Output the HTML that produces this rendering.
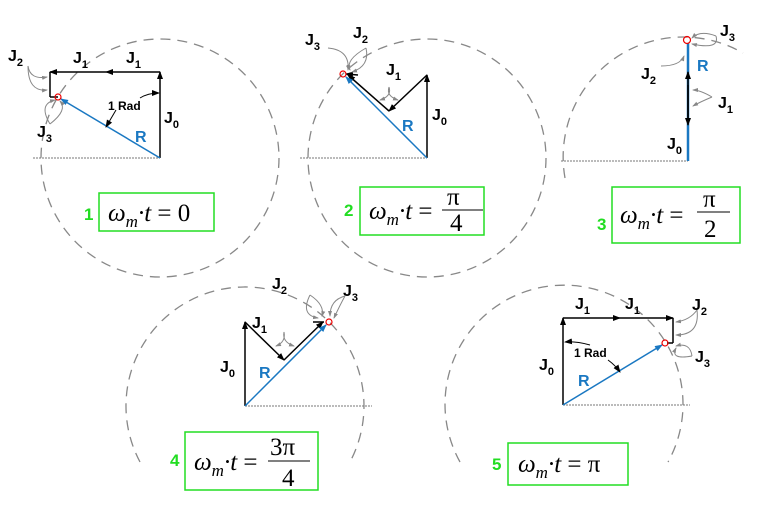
<!DOCTYPE html>
<html><head><meta charset="utf-8"><style>
html,body{margin:0;padding:0;background:#fff;}
svg{display:block;}
.l{font-family:"Liberation Sans",sans-serif;font-weight:bold;font-size:16px;fill:#000;}
.s{font-size:11px;}
.r{font-family:"Liberation Sans",sans-serif;font-weight:bold;font-size:16px;fill:#1a78c2;}
.n{font-family:"Liberation Sans",sans-serif;font-weight:bold;font-size:17px;fill:#22dd22;}
.f{font-family:"Liberation Serif",serif;font-style:italic;font-size:25px;fill:#000;}
.fu{font-family:"Liberation Serif",serif;font-style:normal;font-size:25px;fill:#000;}
.sub{font-family:"Liberation Serif",serif;font-style:italic;font-size:17px;}
.box{fill:#fff;stroke:#22dd22;stroke-width:1.5;}
.c{fill:none;stroke:#888;stroke-width:1.3;stroke-dasharray:10,7;}
.h{stroke:#777;stroke-width:1;stroke-dasharray:2,1;}
.k{stroke:#000;stroke-width:1.5;fill:none;}
.b{stroke:#1a78c2;stroke-width:1.5;fill:none;}
.g{stroke:#888;stroke-width:1;fill:none;}
</style></head><body>
<svg width="770" height="505" viewBox="0 0 770 505" xmlns="http://www.w3.org/2000/svg">
<defs>
<marker id="ak" markerWidth="8" markerHeight="8" refX="7" refY="4" orient="auto" markerUnits="userSpaceOnUse"><path d="M0,1 L8,4 L0,7z" fill="#000"/></marker>
<marker id="ab" markerWidth="8" markerHeight="8" refX="7" refY="4" orient="auto" markerUnits="userSpaceOnUse"><path d="M0,1 L8,4 L0,7z" fill="#1a78c2"/></marker>
<marker id="ag" markerWidth="6" markerHeight="6" refX="5" refY="3" orient="auto" markerUnits="userSpaceOnUse"><path d="M0,1 L6,3 L0,5z" fill="#888"/></marker>
</defs>

<!-- Panel 1 -->
<circle class="c" cx="160" cy="158" r="119"/>
<line class="h" x1="33" y1="158" x2="160" y2="158"/>
<line class="k" x1="160" y1="158" x2="160" y2="72" marker-end="url(#ak)"/>
<line class="k" x1="160" y1="72" x2="106" y2="72" marker-end="url(#ak)"/>
<line class="k" x1="106" y1="72" x2="50" y2="72" marker-end="url(#ak)"/>
<line class="k" x1="50" y1="72" x2="50" y2="97"/>
<line class="k" x1="50" y1="97" x2="58" y2="97"/>
<line class="b" x1="160" y1="158" x2="61" y2="99" marker-end="url(#ab)"/>
<circle cx="58" cy="97" r="3" fill="none" stroke="#e00" stroke-width="1.2"/>
<path class="k" d="M140,98 Q148,93 159,93" style="stroke-width:1" marker-end="url(#ak)"/>
<path class="k" d="M116,110 L106,127" style="stroke-width:1" marker-end="url(#ak)"/>
<text class="l" x="108" y="110" style="font-size:12px">1 Rad</text>
<path class="g" d="M28,66 Q30,80 47,77" marker-end="url(#ag)"/>
<path class="g" d="M28,66 Q28,92 47,90" marker-end="url(#ag)"/>
<path class="g" d="M50,124 Q38,104 55,100" marker-end="url(#ag)"/>
<path class="g" d="M50,124 Q68,110 60,101" marker-end="url(#ag)"/>
<text class="l" x="8" y="61">J<tspan class="s" dy="5">2</tspan></text>
<text class="l" x="73" y="63">J<tspan class="s" dy="5">1</tspan></text>
<text class="l" x="126" y="63">J<tspan class="s" dy="5">1</tspan></text>
<text class="l" x="164" y="123">J<tspan class="s" dy="5">0</tspan></text>
<text class="l" x="37" y="137">J<tspan class="s" dy="5">3</tspan></text>
<text class="r" x="135" y="142">R</text>
<text class="n" x="84" y="220">1</text>
<rect class="box" x="99" y="193" width="115" height="38"/>
<text class="f" x="108" y="221">ω<tspan class="sub" dy="6">m</tspan><tspan dy="-6">·t </tspan><tspan class="fu">= 0</tspan></text>

<!-- Panel 2 -->
<circle class="c" cx="427" cy="158" r="119"/>
<line class="h" x1="300" y1="158" x2="427" y2="158"/>
<line class="k" x1="427" y1="158" x2="427" y2="75" marker-end="url(#ak)"/>
<line class="k" x1="427" y1="75" x2="389" y2="111" marker-end="url(#ak)"/>
<line class="k" x1="389" y1="111" x2="348" y2="75" marker-end="url(#ak)"/>
<line class="k" x1="358" y1="75" x2="346" y2="74" marker-end="url(#ak)"/>
<line class="b" x1="427" y1="158" x2="346" y2="77" marker-end="url(#ab)"/>
<circle cx="343" cy="74" r="3" fill="none" stroke="#e00" stroke-width="1.2"/>
<path class="g" d="M389,87 Q392,96 380,100" marker-end="url(#ag)"/>
<path class="g" d="M389,87 Q386,96 398,100" marker-end="url(#ag)"/>
<path class="g" d="M328,48 Q350,50 348,70" marker-end="url(#ag)"/>
<path class="g" d="M366,48 Q345,60 350,70" marker-end="url(#ag)"/>
<path class="g" d="M366,48 Q370,66 352,72" marker-end="url(#ag)"/>
<text class="l" x="305" y="45">J<tspan class="s" dy="5">3</tspan></text>
<text class="l" x="353" y="38">J<tspan class="s" dy="5">2</tspan></text>
<text class="l" x="386" y="75">J<tspan class="s" dy="5">1</tspan></text>
<text class="l" x="432" y="120">J<tspan class="s" dy="5">0</tspan></text>
<text class="r" x="402" y="131">R</text>
<text class="n" x="344" y="216">2</text>
<rect class="box" x="360" y="187" width="124" height="48"/>
<text class="f" x="369" y="219">ω<tspan class="sub" dy="6">m</tspan><tspan dy="-6">·t </tspan><tspan class="fu">=</tspan></text>
<text class="fu" x="447" y="205">π</text>
<line x1="442" y1="210" x2="483" y2="210" stroke="#000" stroke-width="1"/>
<text class="fu" x="450" y="231">4</text>

<!-- Panel 3 -->
<path class="c" d="M565,178 A120,120 0 0 1 743,53"/>
<line class="h" x1="561" y1="161" x2="688" y2="161"/>
<line x1="688" y1="161" x2="688" y2="43" stroke="#1a78c2" stroke-width="2.5"/>
<line class="k" x1="688" y1="120" x2="688" y2="72" marker-end="url(#ak)"/>
<line class="k" x1="688" y1="85" x2="688" y2="125" marker-end="url(#ak)"/>
<circle cx="687" cy="40" r="3.5" fill="none" stroke="#e00" stroke-width="1.2"/>
<path class="g" d="M712,97 Q700,90 693,90" marker-end="url(#ag)"/>
<path class="g" d="M712,97 Q700,102 693,106" marker-end="url(#ag)"/>
<path class="g" d="M661,66 Q680,66 684,56" marker-end="url(#ag)"/>
<path class="g" d="M716,36 Q700,30 692,38" marker-end="url(#ag)"/>
<path class="g" d="M716,36 Q720,50 692,44" marker-end="url(#ag)"/>
<text class="l" x="641" y="79">J<tspan class="s" dy="5">2</tspan></text>
<text class="r" x="697" y="71">R</text>
<text class="l" x="718" y="108">J<tspan class="s" dy="5">1</tspan></text>
<text class="l" x="667" y="149">J<tspan class="s" dy="5">0</tspan></text>
<text class="l" x="720" y="36">J<tspan class="s" dy="5">3</tspan></text>
<text class="n" x="597" y="230">3</text>
<rect class="box" x="612" y="187" width="128" height="56"/>
<text class="f" x="620" y="223">ω<tspan class="sub" dy="6">m</tspan><tspan dy="-6">·t </tspan><tspan class="fu">=</tspan></text>
<text class="fu" x="703" y="207">π</text>
<line x1="697" y1="212" x2="730" y2="212" stroke="#000" stroke-width="1"/>
<text class="fu" x="704" y="237">2</text>

<!-- Panel 4 -->
<path class="c" d="M140,462 A119,119 0 1 1 351,460"/>
<line class="h" x1="245" y1="406" x2="372" y2="406"/>
<line class="k" x1="245" y1="406" x2="245" y2="322" marker-end="url(#ak)"/>
<line class="k" x1="245" y1="322" x2="284" y2="360" marker-end="url(#ak)"/>
<line class="k" x1="284" y1="360" x2="323" y2="322" marker-end="url(#ak)"/>
<line class="k" x1="313" y1="322" x2="324" y2="322"/>
<line class="b" x1="245" y1="406" x2="326" y2="325" marker-end="url(#ab)"/>
<circle cx="329" cy="322" r="3" fill="none" stroke="#e00" stroke-width="1.2"/>
<path class="g" d="M284,332 Q286,342 276,346" marker-end="url(#ag)"/>
<path class="g" d="M284,332 Q282,342 294,346" marker-end="url(#ag)"/>
<path class="g" d="M310,295 Q300,315 318,318" marker-end="url(#ag)"/>
<path class="g" d="M310,295 Q325,305 322,316" marker-end="url(#ag)"/>
<path class="g" d="M345,296 Q330,300 330,316" marker-end="url(#ag)"/>
<path class="g" d="M345,296 Q340,305 334,318" marker-end="url(#ag)"/>
<text class="l" x="272" y="289">J<tspan class="s" dy="5">2</tspan></text>
<text class="l" x="343" y="296">J<tspan class="s" dy="5">3</tspan></text>
<text class="l" x="252" y="328">J<tspan class="s" dy="5">1</tspan></text>
<text class="l" x="220" y="372">J<tspan class="s" dy="5">0</tspan></text>
<text class="r" x="259" y="378">R</text>
<text class="n" x="170" y="466">4</text>
<rect class="box" x="185" y="432" width="133" height="58"/>
<text class="f" x="194" y="470">ω<tspan class="sub" dy="6">m</tspan><tspan dy="-6">·t </tspan><tspan class="fu">=</tspan></text>
<text class="fu" x="270" y="455">3π</text>
<line x1="268" y1="461" x2="310" y2="461" stroke="#000" stroke-width="1"/>
<text class="fu" x="282" y="486">4</text>

<!-- Panel 5 -->
<path class="c" d="M460,462 A119,119 0 1 1 668,462"/>
<line class="h" x1="563" y1="405" x2="690" y2="405"/>
<line class="k" x1="563" y1="405" x2="563" y2="318" marker-end="url(#ak)"/>
<line class="k" x1="563" y1="318" x2="620" y2="318" marker-end="url(#ak)"/>
<line class="k" x1="620" y1="318" x2="673" y2="318" marker-end="url(#ak)"/>
<line class="k" x1="673" y1="318" x2="673" y2="343"/>
<line class="k" x1="673" y1="343" x2="667" y2="343"/>
<line class="b" x1="563" y1="405" x2="662" y2="345" marker-end="url(#ab)"/>
<circle cx="665" cy="343" r="3" fill="none" stroke="#e00" stroke-width="1.2"/>
<path class="k" d="M590,345 Q575,341 565,342" style="stroke-width:1" marker-end="url(#ak)"/>
<path class="k" d="M608,360 Q615,365 620,372" style="stroke-width:1" marker-end="url(#ak)"/>
<text class="l" x="574" y="357" style="font-size:12px">1 Rad</text>
<path class="g" d="M697,310 Q690,320 676,322" marker-end="url(#ag)"/>
<path class="g" d="M697,310 Q700,335 676,335" marker-end="url(#ag)"/>
<path class="g" d="M692,356 Q670,360 676,348" marker-end="url(#ag)"/>
<path class="g" d="M692,356 Q690,342 676,346" marker-end="url(#ag)"/>
<text class="l" x="575" y="309">J<tspan class="s" dy="5">1</tspan></text>
<text class="l" x="625" y="309">J<tspan class="s" dy="5">1</tspan></text>
<text class="l" x="692" y="310">J<tspan class="s" dy="5">2</tspan></text>
<text class="l" x="695" y="362">J<tspan class="s" dy="5">3</tspan></text>
<text class="l" x="539" y="370">J<tspan class="s" dy="5">0</tspan></text>
<text class="r" x="578" y="386">R</text>
<text class="n" x="492" y="470">5</text>
<rect class="box" x="508" y="443" width="120" height="42"/>
<text class="f" x="518" y="472">ω<tspan class="sub" dy="6">m</tspan><tspan dy="-6">·t </tspan><tspan class="fu">= π</tspan></text>
</svg>
</body></html>
